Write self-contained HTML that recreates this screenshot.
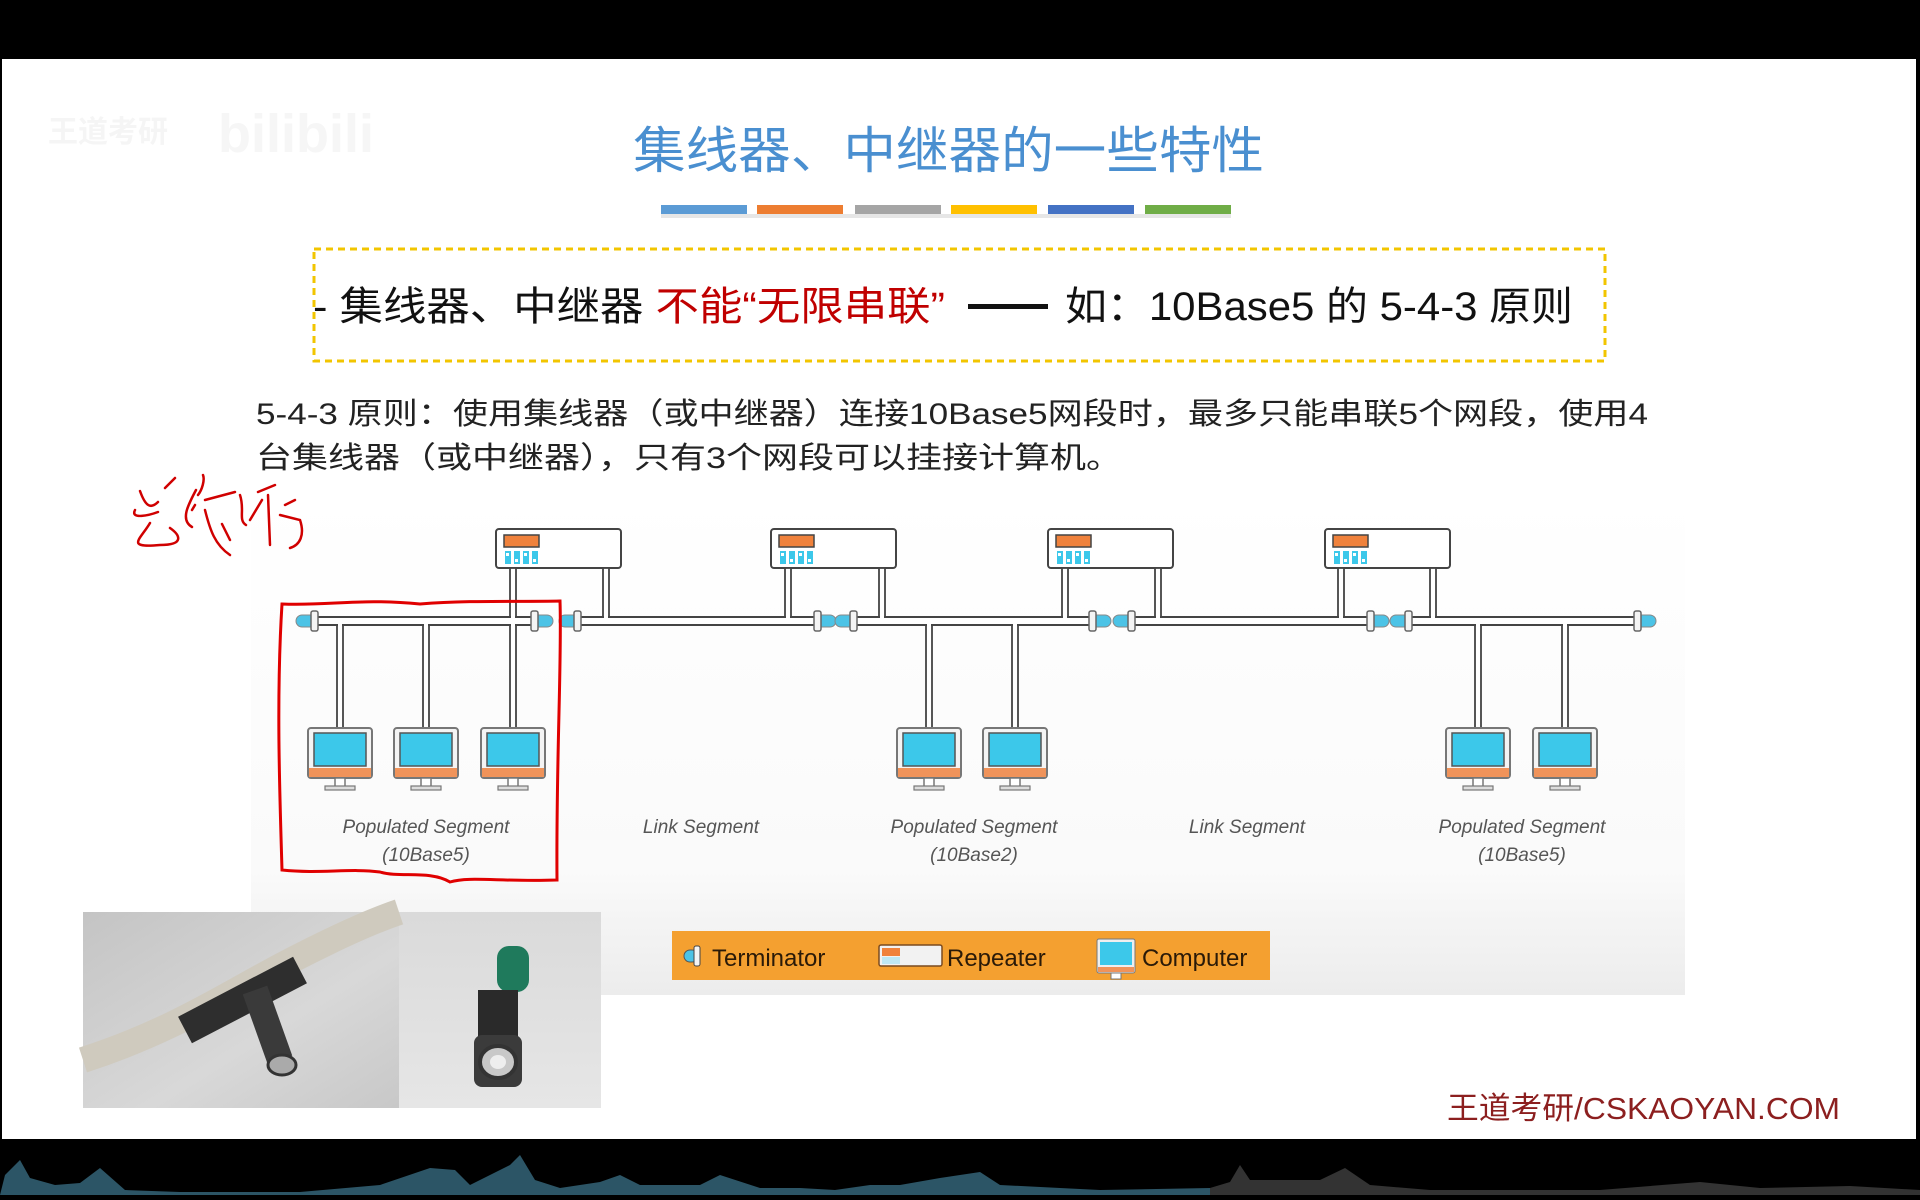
<!DOCTYPE html>
<html><head><meta charset="utf-8"><style>
html,body{margin:0;padding:0;background:#000;width:1920px;height:1200px;overflow:hidden}
svg{display:block}
</style></head><body>
<svg width="1920" height="1200" viewBox="0 0 1920 1200" xmlns="http://www.w3.org/2000/svg" font-family="'Liberation Sans','Noto Sans CJK SC',sans-serif">
<defs>
<linearGradient id="dg" x1="0" y1="0" x2="0" y2="1"><stop offset="0" stop-color="#fff"/><stop offset="0.75" stop-color="#fafafa"/><stop offset="1" stop-color="#ececec"/></linearGradient>
<linearGradient id="p1" x1="0" y1="0" x2="1" y2="1"><stop offset="0" stop-color="#c4c4c4"/><stop offset="0.6" stop-color="#d8d8d8"/><stop offset="1" stop-color="#c8c8c8"/></linearGradient>
<linearGradient id="p2" x1="0" y1="0" x2="0" y2="1"><stop offset="0" stop-color="#dadada"/><stop offset="1" stop-color="#e6e6e6"/></linearGradient>
<g id="comp">
<rect x="-32" y="0" width="64" height="50" rx="3" fill="#f4f4f4" stroke="#777" stroke-width="2"/>
<rect x="-26" y="5" width="52" height="33" fill="#3cc8ea" stroke="#555" stroke-width="1.5"/>
<rect x="-31" y="40" width="62" height="9" fill="#f0935a"/>
<rect x="-5" y="50" width="10" height="9" fill="#fff" stroke="#777" stroke-width="1.5"/>
<rect x="-15" y="58" width="30" height="4" fill="#ddd" stroke="#777" stroke-width="1.2"/>
</g>
<g id="rep">
<rect x="0" y="0" width="125" height="39" rx="3" fill="#fff" stroke="#444" stroke-width="2"/>
<rect x="8" y="6" width="35" height="12" fill="#f0823c" stroke="#444" stroke-width="1.5"/>
<g fill="#3cc8ea"><rect x="9" y="22" width="6" height="13"/><rect x="18" y="22" width="6" height="13"/><rect x="27" y="22" width="6" height="13"/><rect x="36" y="22" width="6" height="13"/></g>
<g fill="#fff"><rect x="10" y="24" width="3" height="3"/><rect x="19" y="30" width="3" height="3"/><rect x="28" y="24" width="3" height="3"/><rect x="37" y="30" width="3" height="3"/></g>
</g>
<g id="termL"><rect x="-18" y="-6" width="22" height="12" rx="6" fill="#4cc3e6" stroke="#888" stroke-width="1"/><rect x="-3" y="-10" width="7" height="20" rx="2" fill="#f4f4f4" stroke="#666" stroke-width="1.5"/></g>
<g id="termR"><rect x="-4" y="-6" width="22" height="12" rx="6" fill="#4cc3e6" stroke="#888" stroke-width="1"/><rect x="-4" y="-10" width="7" height="20" rx="2" fill="#f4f4f4" stroke="#666" stroke-width="1.5"/></g>
</defs>

<rect x="0" y="0" width="1920" height="1200" fill="#000"/>
<rect x="2" y="59" width="1914" height="1080" fill="#fff"/>
<text x="48" y="142" font-size="30" fill="#f5f5f5" font-weight="bold">王道考研</text>
<text x="218" y="152" font-size="54" fill="#f6f6f6" font-weight="bold">bilibili</text>

<text x="633" y="168" font-size="50" fill="#4a8fd0" textLength="631" lengthAdjust="spacingAndGlyphs">集线器、中继器的一些特性</text>
<g>
<rect x="661" y="205" width="86" height="9" fill="#5b9bd5"/>
<rect x="757" y="205" width="86" height="9" fill="#ed7d31"/>
<rect x="855" y="205" width="86" height="9" fill="#a5a5a5"/>
<rect x="951" y="205" width="86" height="9" fill="#ffc000"/>
<rect x="1048" y="205" width="86" height="9" fill="#4472c4"/>
<rect x="1145" y="205" width="86" height="9" fill="#70ad47"/>
<rect x="661" y="214" width="570" height="4" fill="#e6e6e6"/>
</g>

<rect x="314" y="249" width="1291" height="112" fill="none" stroke="#f2c500" stroke-width="3" stroke-dasharray="7,5"/>
<text x="313" y="320" font-size="40" fill="#111" textLength="632" lengthAdjust="spacingAndGlyphs"><tspan>- 集线器、中继器 </tspan><tspan fill="#c00000">不能“无限串联”</tspan></text>
<rect x="968" y="304" width="80" height="5" fill="#111"/>
<text x="1065" y="320" font-size="40" fill="#111" textLength="508" lengthAdjust="spacingAndGlyphs">如：10Base5 的 5-4-3 原则</text>

<text x="256" y="424" font-size="30" fill="#222" textLength="1392" lengthAdjust="spacingAndGlyphs">5-4-3 原则：使用集线器（或中继器）连接10Base5网段时，最多只能串联5个网段，使用4</text>
<text x="256" y="468" font-size="30" fill="#222" textLength="866" lengthAdjust="spacingAndGlyphs">台集线器（或中继器），只有3个网段可以挂接计算机。</text>

<rect x="251" y="495" width="1434" height="500" fill="url(#dg)"/>

<use href="#rep" x="496" y="529"/>
<use href="#rep" x="771" y="529"/>
<use href="#rep" x="1048" y="529"/>
<use href="#rep" x="1325" y="529"/>

<g fill="#fff" stroke="#444" stroke-width="1.8">
<rect x="510" y="568" width="6" height="160"/>
<rect x="603" y="568" width="6" height="52"/>
<rect x="785" y="568" width="6" height="52"/>
<rect x="879" y="568" width="6" height="52"/>
<rect x="1062" y="568" width="6" height="52"/>
<rect x="1155" y="568" width="6" height="52"/>
<rect x="1338" y="568" width="6" height="52"/>
<rect x="1430" y="568" width="6" height="52"/>
<rect x="337" y="620" width="6" height="108"/>
<rect x="423" y="620" width="6" height="108"/>
<rect x="926" y="620" width="6" height="108"/>
<rect x="1012" y="620" width="6" height="108"/>
<rect x="1475" y="620" width="6" height="108"/>
<rect x="1562" y="620" width="6" height="108"/>
</g>
<g fill="#fff" stroke="#444" stroke-width="2">
<rect x="312" y="617" width="223" height="8"/>
<rect x="575" y="617" width="243" height="8"/>
<rect x="851" y="617" width="242" height="8"/>
<rect x="1129" y="617" width="242" height="8"/>
<rect x="1406" y="617" width="235" height="8"/>
</g>
<g fill="#fff">
<rect x="511" y="616" width="4" height="10"/><rect x="338" y="619" width="4" height="7"/><rect x="424" y="619" width="4" height="7"/>
<rect x="604" y="616" width="4" height="3"/><rect x="786" y="616" width="4" height="3"/><rect x="880" y="616" width="4" height="3"/>
<rect x="1063" y="616" width="4" height="3"/><rect x="1156" y="616" width="4" height="3"/><rect x="1339" y="616" width="4" height="3"/><rect x="1431" y="616" width="4" height="3"/>
<rect x="927" y="624" width="4" height="3"/><rect x="1013" y="624" width="4" height="3"/><rect x="1476" y="624" width="4" height="3"/><rect x="1563" y="624" width="4" height="3"/>
</g>
<use href="#termL" x="314" y="621"/><use href="#termR" x="535" y="621"/>
<use href="#termL" x="577" y="621"/><use href="#termR" x="818" y="621"/>
<use href="#termL" x="853" y="621"/><use href="#termR" x="1093" y="621"/>
<use href="#termL" x="1131" y="621"/><use href="#termR" x="1371" y="621"/>
<use href="#termL" x="1408" y="621"/><use href="#termR" x="1638" y="621"/>

<use href="#comp" x="340" y="728"/>
<use href="#comp" x="426" y="728"/>
<use href="#comp" x="513" y="728"/>
<use href="#comp" x="929" y="728"/>
<use href="#comp" x="1015" y="728"/>
<use href="#comp" x="1478" y="728"/>
<use href="#comp" x="1565" y="728"/>

<g font-size="19" font-style="italic" fill="#555" text-anchor="middle">
<text x="426" y="833">Populated Segment</text><text x="426" y="861">(10Base5)</text>
<text x="701" y="833">Link Segment</text>
<text x="974" y="833">Populated Segment</text><text x="974" y="861">(10Base2)</text>
<text x="1247" y="833">Link Segment</text>
<text x="1522" y="833">Populated Segment</text><text x="1522" y="861">(10Base5)</text>
</g>

<rect x="672" y="931" width="598" height="49" fill="#f4a030"/>
<g transform="translate(690,956)"><rect x="-6" y="-6" width="14" height="12" rx="6" fill="#4cc3e6" stroke="#555"/><rect x="4" y="-10" width="6" height="20" rx="2" fill="#f4f4f4" stroke="#444"/></g>
<text x="712" y="966" font-size="24" fill="#2a1a08">Terminator</text>
<g transform="translate(879,945)"><rect width="63" height="21" rx="2" fill="#f2f2f2" stroke="#7a4a20" stroke-width="1.5"/><rect x="3" y="3" width="18" height="8" fill="#f0823c"/><rect x="3" y="12" width="18" height="7" fill="#bfe8f4"/></g>
<text x="947" y="966" font-size="24" fill="#2a1a08">Repeater</text>
<g transform="translate(1097,939)"><rect width="38" height="34" rx="2" fill="#eee" stroke="#777"/><rect x="3" y="3" width="32" height="23" fill="#3cc8ea"/><rect x="1" y="28" width="36" height="5" fill="#f0935a"/><rect x="14" y="34" width="10" height="6" fill="#fff" stroke="#777"/></g>
<text x="1142" y="966" font-size="24" fill="#2a1a08">Computer</text>

<rect x="83" y="912" width="316" height="196" fill="url(#p1)"/>
<rect x="399" y="912" width="202" height="196" fill="url(#p2)"/>
<path d="M83,1060 C160,1035 210,1005 255,980 C300,955 360,925 399,912" stroke="#cfcabe" stroke-width="26" fill="none"/>
<path d="M185,1030 L300,970" stroke="#2e2e2e" stroke-width="30"/>
<path d="M255,990 L280,1060" stroke="#3a3a3a" stroke-width="26"/>
<ellipse cx="282" cy="1065" rx="14" ry="10" fill="#aaa" stroke="#333" stroke-width="3"/>
<rect x="497" y="946" width="32" height="46" rx="12" fill="#1f7a5c"/>
<rect x="478" y="990" width="40" height="50" fill="#2a2a2a"/>
<rect x="474" y="1035" width="48" height="52" rx="8" fill="#3b3b3b"/>
<ellipse cx="498" cy="1062" rx="18" ry="16" fill="#c8c8c8" stroke="#333" stroke-width="4"/>
<ellipse cx="498" cy="1062" rx="8" ry="7" fill="#eee"/>

<text x="1447" y="1119" font-size="31" fill="#8c1f1f" textLength="393" lengthAdjust="spacingAndGlyphs">王道考研/CSKAOYAN.COM</text>

<path d="M282,604 C330,606 360,598 420,604 C470,600 520,602 560,601 C562,660 556,760 557,880 C500,882 470,876 450,882 C430,870 400,878 380,872 C350,868 320,874 282,870 C280,800 276,700 282,604 Z" fill="none" stroke="#e00000" stroke-width="3"/>
<path d="M140,491 C145,505 150,510 158,502 M165,488 L175,478 M135,510 C130,520 150,515 158,512 M150,523 C140,540 125,548 160,545 C185,545 180,535 170,528 M195,505 L192,510 M203,475 C205,480 202,490 198,495 M196,490 C188,505 180,520 192,527 M205,510 C210,530 215,545 230,555 M205,500 L235,492 M240,495 C245,510 238,520 246,525 M222,524 L230,540 M258,492 L275,485 M262,500 L250,520 M268,495 L270,545 M285,505 L295,500 M280,515 L300,520 C305,535 300,545 290,548" fill="none" stroke="#d00000" stroke-width="2.5" stroke-linecap="round"/>

<rect x="0" y="1139" width="1920" height="61" fill="#000"/>
<path d="M0,1195 L5,1175 L20,1160 L30,1178 L55,1185 L80,1183 L100,1168 L125,1190 L180,1192 L300,1192 L380,1185 L430,1168 L455,1170 L470,1185 L510,1165 L520,1155 L535,1180 L560,1188 L600,1182 L620,1175 L640,1185 L700,1185 L720,1175 L760,1188 L800,1188 L835,1190 L870,1185 L900,1185 L940,1178 L980,1172 L1000,1185 L1060,1188 L1100,1190 L1210,1188 L1210,1195 Z" fill="#2c5566"/>
<path d="M1210,1195 L1210,1188 L1230,1182 L1240,1165 L1250,1180 L1320,1180 L1345,1168 L1370,1185 L1430,1190 L1600,1190 L1700,1182 L1760,1188 L1850,1186 L1920,1190 L1920,1195 Z" fill="#333"/>
</svg>
</body></html>
